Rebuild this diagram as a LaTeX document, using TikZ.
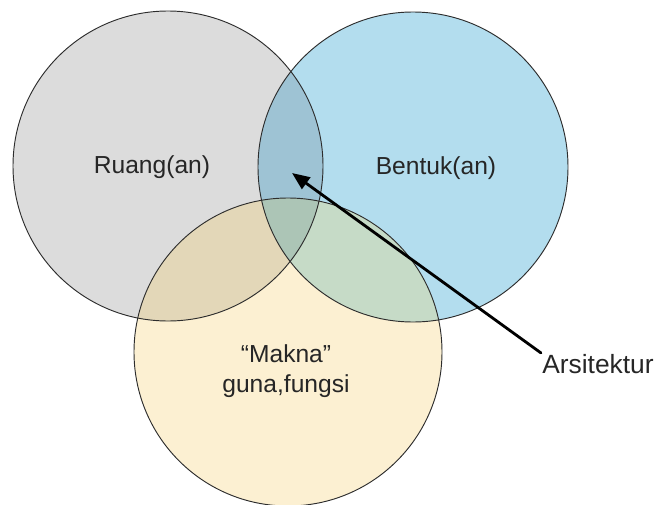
\documentclass[tikz,border=0pt]{standalone}
\usepackage{fontspec}
\setmainfont{Liberation Sans}
\usetikzlibrary{arrows.meta}

\definecolor{ruang}{RGB}{220,220,220}
\definecolor{bentuk}{RGB}{179,221,238}
\definecolor{makna}{RGB}{252,240,210}
\definecolor{ruangbentuk}{RGB}{158,195,212}
\definecolor{ruangmakna}{RGB}{227,215,184}
\definecolor{bentukmakna}{RGB}{198,219,199}
\definecolor{semua}{RGB}{172,197,182}
\definecolor{garis}{RGB}{45,45,45}

\tikzset{
  rim/.style={draw=garis, line width=0.8pt},
  label/.style={font=\fontsize{21}{26}\selectfont, text=black!85, align=center}
}

\begin{document}
\begin{tikzpicture}[x=0.03cm,y=-0.03cm]
    \useasboundingbox (0,0) rectangle (661,505);
    \coordinate (R) at (168,166);
    \coordinate (B) at (413,167);
    \coordinate (M) at (288,352);
    % base fills
    \fill[ruang] (R) circle[radius=155];
    \fill[bentuk] (B) circle[radius=155];
    \fill[makna] (M) circle[radius=154];
    % overlaps
    \begin{scope}
      \clip (R) circle[radius=155];
      \fill[ruangbentuk] (B) circle[radius=155];
      \fill[ruangmakna] (M) circle[radius=154];
    \end{scope}
    \begin{scope}
      \clip (B) circle[radius=155];
      \fill[bentukmakna] (M) circle[radius=154];
    \end{scope}
    \begin{scope}
      \clip (R) circle[radius=155];
      \clip (B) circle[radius=155];
      \fill[semua] (M) circle[radius=154];
    \end{scope}
    % outlines
    \draw[rim] (R) circle[radius=155];
    \draw[rim] (B) circle[radius=155];
    \draw[rim] (M) circle[radius=154];
    % labels
    \node[label] (ruangan) at (152,167) {Ruang(an)};
    \node[label] (bentukan) at (436,168) {Bentuk(an)};
    \node[label] (makna) at (286,371) {``Makna''\\guna,fungsi};
    \node[label, font=\fontsize{22.5}{27}\selectfont, inner sep=1pt] (arsitektur) at (598,364) {Arsitektur};
    \coordinate (pusat) at (292,173);
    \draw[-{Triangle[length=15pt,width=12pt]}, line width=2.4pt, line cap=round] (arsitektur.north west) -- (pusat);
  \end{tikzpicture}
\end{document}
